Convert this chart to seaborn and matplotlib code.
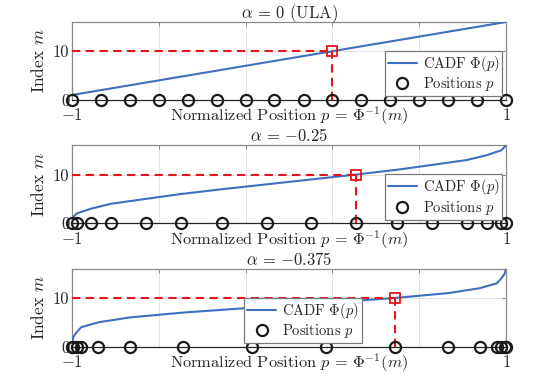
import numpy as np
import seaborn as sns
import matplotlib.pyplot as plt

# index m of each element (CADF level)
m_idx = [1, 2, 3, 4, 5, 6, 7, 8, 9, 10, 11, 12, 13, 14, 15, 16]

# positions p = Phi^-1(m)
pos_ula = [-1, -0.867, -0.733, -0.6, -0.467, -0.333, -0.2, -0.067,
           0.067, 0.2, 0.333, 0.467, 0.6, 0.733, 0.867, 1]
pos_a025 = [-1, -0.979, -0.912, -0.820, -0.661, -0.499, -0.307, -0.102,
            0.102, 0.307, 0.499, 0.661, 0.820, 0.912, 0.979, 1]
pos_a0375 = [-1, -0.994, -0.978, -0.957, -0.878, -0.734, -0.488, -0.171,
             0.171, 0.488, 0.734, 0.878, 0.957, 0.978, 0.994, 1]

titles = [r'$\alpha \,=\, 0$ (ULA)', r'$\alpha \,=\, {-0.25}$', r'$\alpha \,=\, {-0.375}$']
m_sel = 10  # highlighted index

xticks = [-1, -0.6, -0.2, 0.2, 0.6, 1]
xtick_labels = [r'$-1$', '', '', '', '', r'$1$']
yticks = [0, 10]
ytick_labels = ['0', '10']

sns.set_theme(style='white')
plt.rcParams['font.family'] = ['cmr10', 'DejaVu Serif']
plt.rcParams['mathtext.fontset'] = 'cm'
plt.rcParams['axes.unicode_minus'] = False
plt.rcParams['axes.formatter.use_mathtext'] = True

blue = '#3f6fbf'
red = '#e8141c'
spine_gray = '#8a8a8a'

fig, axes = plt.subplots(3, 1, figsize=(5.6, 3.86), dpi=100)
fig.subplots_adjust(left=0.1286, right=0.9036, top=0.943, bottom=0.102, hspace=0.585)

legend_pos = [dict(loc='lower right', bbox_to_anchor=(1.0, 0.0)),
              dict(loc='lower right', bbox_to_anchor=(1.0, 0.0)),
              dict(loc='lower center', bbox_to_anchor=(0.532, 0.0))]

for ax, pos, title, lp in zip(axes, [pos_ula, pos_a025, pos_a0375], titles, legend_pos):
    ax.grid(True, color='#e4e4e4', linewidth=0.7)
    ax.set_axisbelow(True)

    sns.lineplot(x=pos, y=m_idx, ax=ax, color=blue, linewidth=1.5,
                 label=r'CADF $\Phi(p)$', zorder=3)
    ax.plot(pos, np.zeros(len(pos)), 'o', ms=8, mfc='none', mec='k',
            mew=1.6, clip_on=False, zorder=5, label=r'Positions $p$')

    ps = pos[m_idx.index(m_sel)]
    ax.plot([-1, ps], [m_sel, m_sel], '--', color=red, lw=1.5, dashes=(4, 2.6), zorder=4)
    ax.plot([ps, ps], [0, m_sel], '--', color=red, lw=1.5, dashes=(4, 2.6), zorder=4)
    ax.plot([ps], [m_sel], 's', ms=6.5, mfc='none', mec=red, mew=1.3, zorder=6)

    ax.set_xlim(-1, 1)
    ax.set_ylim(0, 16)
    ax.set_xticks(xticks)
    ax.set_xticklabels(xtick_labels)
    ax.set_yticks(yticks)
    ax.set_yticklabels(ytick_labels)
    ax.tick_params(axis='both', direction='in', length=3, width=0.7, color=spine_gray,
                   labelsize=12, top=True, right=True, pad=2)
    ax.tick_params(axis='x', pad=5.5)

    for s in ['top', 'left', 'right']:
        ax.spines[s].set_color(spine_gray)
        ax.spines[s].set_linewidth(0.9)
    ax.spines['bottom'].set_color('#262626')
    ax.spines['bottom'].set_linewidth(0.9)

    ax.set_title(title, fontsize=12, pad=3)
    ax.set_ylabel(r'Index $m$', fontsize=12.5, labelpad=4)
    ax.set_xlabel(r'Normalized Position $p \,=\, \Phi^{-1}(m)$', fontsize=11.8)
    ax.xaxis.set_label_coords(0.5, -0.065)

    leg = ax.legend(fontsize=10.5, frameon=True, fancybox=False, framealpha=1,
                    edgecolor='#7a7a7a', handlelength=2.0, handletextpad=0.4,
                    labelspacing=0.1, borderpad=0.2, borderaxespad=0.25, **lp)
    leg.get_frame().set_linewidth(0.9)
    leg.set_zorder(7)

fig.savefig('out.png', dpi=100)
